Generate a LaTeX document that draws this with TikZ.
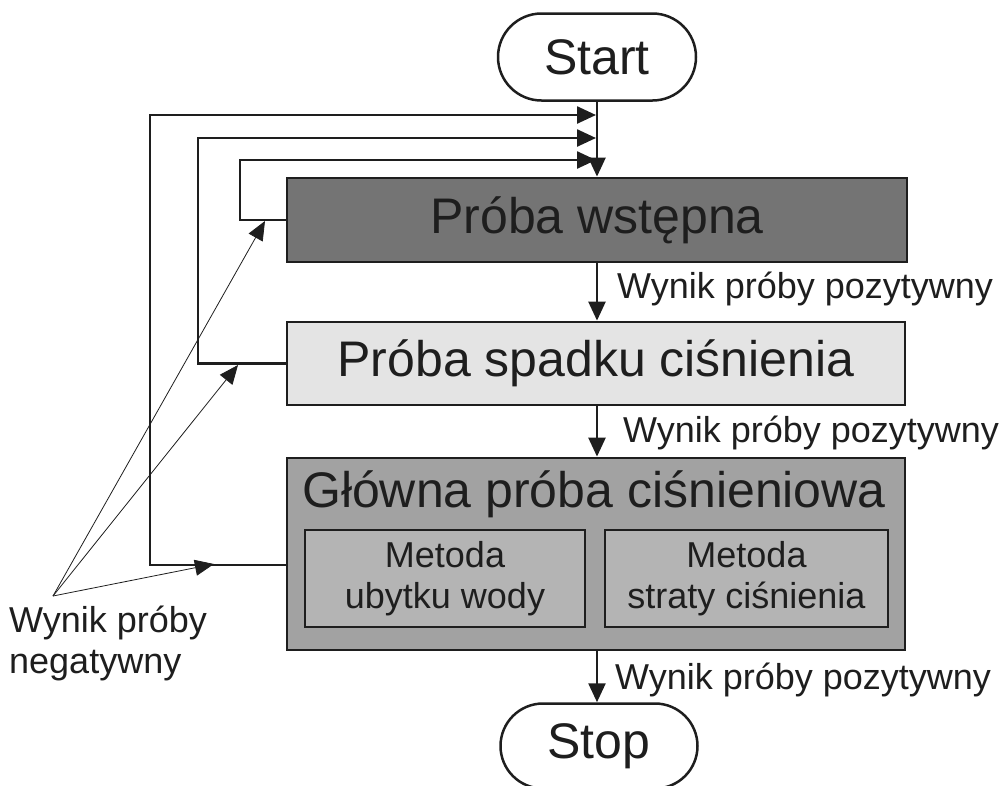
\documentclass[tikz,border=0pt]{standalone}
\usepackage{fontspec}
\setmainfont{Liberation Sans}
\usetikzlibrary{shapes.misc,arrows.meta,calc}
\definecolor{darkbox}{HTML}{747474}
\definecolor{lightbox}{HTML}{E4E4E4}
\definecolor{midbox}{HTML}{A2A2A2}
\definecolor{innerbox}{HTML}{B4B4B4}
\definecolor{ink}{HTML}{1E1E1E}
\tikzset{
  bigtext/.style={font=\fontsize{50}{56}\selectfont, text=ink},
  smalltext/.style={font=\fontsize{36}{41}\selectfont, text=ink},
  terminal/.style={rounded rectangle, draw=ink, line width=2.5pt, fill=white, bigtext, inner sep=0pt},
  procbox/.style={rectangle, draw=ink, line width=2.8pt, bigtext, inner sep=0pt},
  subbox/.style={rectangle, draw=ink, line width=2.5pt, fill=innerbox, smalltext, align=center, inner sep=0pt},
  conn/.style={draw=ink, line width=2.5pt, -{Triangle[length=19pt,width=17pt]}},
  thin/.style={draw=ink, line width=0.8pt, -{Triangle[length=19pt,width=16pt]}},
  lbl/.style={smalltext, anchor=base west, inner sep=0pt},
}
\begin{document}
\begin{tikzpicture}[x=1pt,y=-1pt]
\useasboundingbox (0,0) rectangle (1004,785);
% nodes
\node[terminal, minimum width=198pt, minimum height=87pt] (start) at (597,57) {Start};
\node[procbox, fill=darkbox, minimum width=620pt, minimum height=84pt] (pw) at (597,220) {Próba wstępna};
\node[procbox, fill=lightbox, minimum width=618pt, minimum height=83pt] (ps) at (596,363.5) {Próba spadku ciśnienia};
\node[procbox, fill=midbox, minimum width=618pt, minimum height=192pt] (gl) at (596,554) {};
\node[bigtext, inner sep=0pt] (gltitle) at (594,494) {Główna próba ciśnieniowa};
\node[subbox, minimum width=280pt, minimum height=97pt] (m1) at (445,578.5) {Metoda\\ubytku wody};
\node[subbox, minimum width=283pt, minimum height=97pt] (m2) at (746.5,578.5) {Metoda\\straty ciśnienia};
\node[terminal, minimum width=197pt, minimum height=85pt] (stop) at (599,746) {Stop};
% junction points on the vertical entry line
\coordinate (j1) at (596,115);
\coordinate (j2) at (596,138);
\coordinate (j3) at (596,160);
% main flow
\draw[conn] (start.south -| 597,0) -- (pw.north -| 597,0);
\draw[conn] (pw.south -| 597,0) -- (ps.north -| 597,0);
\draw[conn] (ps.south -| 597,0) -- (gl.north -| 597,0);
\draw[conn] (gl.south -| 597,0) -- (stop.north -| 597,0);
% positive labels
\node[lbl] (l1) at (617,298) {Wynik próby pozytywny};
\node[lbl] (l2) at (623,442) {Wynik próby pozytywny};
\node[lbl] (l3) at (615,689) {Wynik próby pozytywny};
% loops back
\draw[conn] (pw.west) -- (240,220) |- (j3);
\draw[conn] (ps.west) -- (198,363.5) |- (j2);
\draw[conn] ([yshift=-11pt]gl.west) -- (150,565) |- (j1);
% negative label and pointers
\node[smalltext, align=left, anchor=north west, inner sep=0pt] (neg) at (9,606) {Wynik próby\\negatywny};
\coordinate (np) at (53,596);
\coordinate (t3) at (265,221);
\coordinate (t2) at (238,365);
\coordinate (t1) at (214,564);
\draw[thin] (np) -- (t3);
\draw[thin] (np) -- (t2);
\draw[thin] (np) -- (t1);
\end{tikzpicture}
\end{document}
